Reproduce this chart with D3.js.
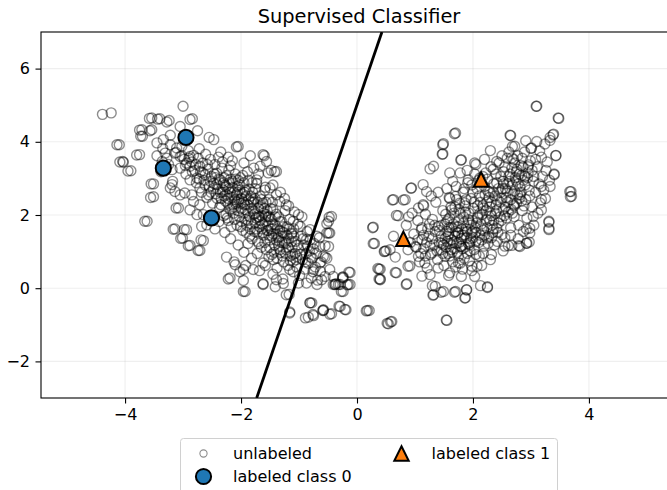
<!DOCTYPE html>
<html>
<head>
<meta charset="utf-8">
<script src="https://cdn.jsdelivr.net/npm/d3@7"></script>
<style>
  html, body { margin: 0; padding: 0; background: #fff; }
  #chart { width: 667px; height: 490px; overflow: hidden; }
  svg { font-family: "DejaVu Sans", sans-serif; display: block; }
</style>
</head>
<body>
<div id="chart"></div>
<script>
// points (x, y)
const unlabeled = [
  // left cluster, outer points
  [-4.39,4.75],[-4.24,4.79],[-3.00,4.97],[-3.58,4.64],[-3.44,4.62],[-3.28,4.54],[-2.88,4.61],
  [-3.75,4.32],[-3.57,4.30],[-3.73,4.15],[-4.14,3.92],[-3.80,3.64],[-4.09,3.45],[-4.03,3.44],
  [-3.95,3.20],[-3.55,2.85],[-3.56,2.48],[-3.66,1.83],[-3.12,2.19],[-3.17,1.61],[-2.98,1.60],
  [-3.04,1.36],[-2.91,1.16],[-2.74,1.03],[-2.69,1.32],[-2.08,3.86],[-1.60,3.62],[-1.42,3.18],
  [-1.58,2.76],[-2.22,0.25],[-1.96,-0.09],[-1.96,0.21],[-1.62,0.12],[-1.41,0.04],[-1.27,0.13],
  [-1.17,-0.17],[-1.16,-0.65],[-0.81,-0.40],[-0.89,-0.81],[-0.76,-0.72],[-0.59,-0.61],
  [-0.47,-0.71],[-0.31,-0.49],[-0.21,-0.58],[0.16,-0.62],[0.52,-0.96],[0.58,-0.92],
  [-0.14,0.44],[-0.17,0.09],[-0.27,-0.09],[-0.36,0.12],[-0.25,0.30],[-0.48,1.94],[-0.49,1.51],
  [-0.52,1.76],[-0.55,1.16],[-0.55,0.85],[-0.63,0.46],[-0.75,1.07],[-0.81,1.32],
  [-3.54,4.65],[-3.40,4.63],[-3.24,4.58],[-2.84,4.63],[-3.05,4.42],[-3.71,4.33],[-3.70,4.15],
  [-3.54,4.33],[-4.10,3.92],[-3.75,3.65],[-4.04,3.46],[-3.90,3.21],[-3.51,2.85],[-3.51,2.50],
  [-3.62,1.83],[-3.08,2.19],[-3.14,1.62],[-2.94,1.60],[-3.01,1.37],[-2.88,1.17],[-2.65,1.30],
  [-2.71,1.03],[-2.75,4.30],[-2.55,4.12],[-2.47,4.06],[-3.34,4.06],[-3.45,3.97],
  [-3.22,3.92],[-3.11,3.83],[-3.14,3.69],[-3.05,3.60],[-2.88,3.60],[-2.94,3.42],[-2.88,3.33],
  [-2.71,3.33],[-2.76,3.01],[-2.62,3.10],[-2.53,2.92],[-2.42,2.83],[-2.71,2.74],[-2.85,2.55],
  [-2.97,2.60],[-3.19,2.83],[-3.22,2.74],[-3.14,2.64],[-2.82,2.37],[-2.71,2.28],[-2.88,2.14],
  [-2.76,2.01],[-2.65,2.01],[-2.59,1.73],[-2.68,1.69],[-3.05,2.55],[-3.19,3.24],[-3.31,3.69],
  [-3.36,3.46],
  [-2.05,3.87],[-1.84,3.62],[-1.62,3.65],[-1.39,3.19],[-1.56,3.46],[-1.67,3.33],[-1.53,3.15],
  [-1.73,2.96],[-1.50,2.74],[-1.39,2.55],[-1.33,2.37],[-1.22,2.28],[-1.01,2.01],[-1.10,1.83],
  [-0.98,1.69],[-0.81,1.60],[-1.13,1.51],[-1.22,1.23],[-1.33,1.05],[-1.44,0.78],[-1.62,0.69],
  [-1.79,0.51],[-1.96,0.51],[-2.10,0.64],[-2.19,0.28],[-1.93,-0.09],[-1.62,0.10],[-1.39,0.23],
  [-1.16,0.51],[-1.04,0.87],[-1.10,0.73],[-0.87,1.33],[-0.69,1.42],[-0.64,1.14],[-0.52,1.51],
  [-0.49,1.83],[-0.58,0.87],[-0.64,0.69],[-0.75,0.51],[-0.87,0.14],[-1.01,0.14],[-0.81,-0.40],
  [-0.58,-0.59],[-0.38,0.10],[-0.41,0.32],[-0.55,0.32],[-0.47,0.51],
  // left cluster, dense band
  [-3.12,3.71],[-3.05,3.28],[-3.02,3.88],[-2.98,3.52],[-2.95,3.12],[-2.91,3.76],[-2.88,2.96],
  [-2.85,3.45],[-2.82,3.63],[-2.80,3.22],[-2.77,2.88],[-2.74,3.55],[-2.72,3.81],[-2.70,3.18],
  [-2.68,2.62],[-2.66,3.42],[-2.64,2.95],[-2.61,3.66],[-2.59,2.48],[-2.57,3.25],[-2.55,2.78],
  [-2.53,3.52],[-2.51,3.05],[-2.49,2.32],[-2.47,2.86],[-2.45,3.38],[-2.43,2.58],[-2.42,3.14],
  [-2.40,2.71],[-2.39,3.58],[-2.37,2.21],[-2.36,2.96],[-2.34,2.45],[-2.33,3.28],[-2.31,2.68],
  [-2.30,1.98],[-2.28,2.82],[-2.27,2.38],[-2.25,3.08],[-2.24,2.55],[-2.22,1.85],[-2.21,2.72],
  [-2.19,2.15],[-2.18,3.35],[-2.16,2.48],[-2.15,2.92],[-2.13,2.05],[-2.12,2.62],[-2.10,3.12],
  [-2.09,2.31],[-2.07,1.72],[-2.06,2.78],[-2.04,2.42],[-2.03,1.95],[-2.01,3.02],[-2.00,2.18],
  [-1.98,2.58],[-1.97,1.58],[-1.95,2.88],[-1.94,2.28],[-1.92,1.88],[-1.91,2.52],[-1.89,3.18],
  [-1.88,2.05],[-1.86,2.71],[-1.85,1.42],[-1.83,2.35],[-1.82,1.76],[-1.80,2.62],[-1.79,2.12],
  [-1.77,1.55],[-1.76,2.45],[-1.74,1.92],[-1.73,2.86],[-1.71,1.28],[-1.70,2.18],[-1.68,1.68],
  [-1.67,2.52],[-1.65,1.12],[-1.64,1.98],[-1.62,2.32],[-1.61,1.45],[-1.59,2.68],[-1.58,1.82],
  [-1.56,1.05],[-1.55,2.12],[-1.53,1.58],[-1.52,2.42],[-1.50,1.32],[-1.48,1.88],[-1.47,0.92],
  [-1.45,2.15],[-1.44,1.48],[-1.42,1.18],[-1.41,1.72],[-1.39,2.02],[-1.38,0.82],[-1.36,1.38],
  [-1.35,1.95],[-1.33,1.58],[-1.32,0.98],[-1.30,1.82],[-1.29,1.25],[-1.27,0.72],[-1.26,1.52],
  [-1.24,2.12],[-1.22,1.05],[-1.21,1.68],[-1.19,0.62],[-1.18,1.35],[-1.16,1.88],[-1.15,0.88],
  [-1.13,1.48],[-1.12,1.12],[-1.10,0.45],[-1.09,1.62],[-1.07,0.95],[-1.06,1.28],[-1.04,0.58],
  [-1.02,1.75],[-1.01,1.08],[-0.99,0.35],[-0.96,1.42],[-0.94,0.78],[-0.92,1.18],[-0.90,0.52],
  [-0.88,0.95],[-0.86,1.55],[-0.84,0.68],[-0.82,1.02],[-0.79,0.28],[-0.77,0.82],[-0.74,1.22],
  [-0.72,0.58],[-0.70,0.95],[-0.68,0.22],[-0.65,1.38],[-0.62,0.72],
  [-3.35,3.82],[-3.28,3.55],[-3.22,4.18],[-3.45,3.62],[-3.38,3.18],[-3.18,2.92],[-3.25,3.38],
  [-2.35,3.72],[-2.22,3.58],[-2.15,3.48],[-1.95,3.42],[-1.78,3.28],[-1.70,3.12],[-1.48,3.22],
  [-1.45,2.82],[-1.32,2.62],[-1.25,2.45],[-1.18,2.25],[-1.08,2.08],[-0.95,1.95],
  [-2.45,1.62],[-2.38,1.82],[-2.28,1.52],[-2.18,1.35],[-2.05,1.18],[-1.95,0.98],[-1.88,1.22],
  [-1.82,0.82],[-1.72,0.95],[-1.68,0.48],[-1.58,0.62],[-1.52,0.85],[-1.45,0.38],[-1.38,0.55],
  [-1.28,0.25],[-2.25,0.85],[-2.12,0.72],[-2.02,0.45],[-1.92,0.62],
  [-2.26,2.02],[-2.20,2.88],[-2.14,2.28],[-2.08,2.55],[-2.02,2.68],[-1.99,1.82],[-1.93,2.15],
  [-1.87,2.42],[-1.84,1.62],[-1.81,2.88],[-1.75,2.05],[-1.72,1.52],[-1.66,2.22],[-1.63,1.75],
  [-1.57,2.02],[-1.54,1.72],[-1.49,1.62],[-1.46,2.35],[-2.32,2.62],[-2.29,3.02],[-2.23,2.32],
  [-2.17,1.68],[-2.11,2.42],[-2.05,2.95],[-1.96,2.35],[-1.90,1.72],[-1.78,2.35],[-1.69,1.95],
  [-1.60,2.18],[-1.51,1.95],
  [-2.58,3.38],[-2.52,2.62],[-2.46,3.12],[-2.41,2.45],[-2.38,2.98],[-2.35,2.28],[-2.32,3.45],
  [-2.29,2.52],[-2.26,2.78],[-2.24,1.92],[-2.21,3.22],[-2.19,2.62],[-2.16,2.18],[-2.14,2.75],
  [-2.11,1.88],[-2.09,2.98],[-2.07,2.35],[-2.05,2.12],[-2.03,2.82],[-2.01,1.68],[-1.99,2.45],
  [-1.97,3.08],[-1.95,2.05],[-1.93,2.68],[-1.91,1.52],[-1.89,2.28],[-1.87,2.95],[-1.85,1.95],
  [-1.83,2.52],[-1.81,1.35],[-1.79,2.42],[-1.77,2.02],[-1.75,2.72],[-1.73,1.62],[-1.71,2.35],
  [-1.69,1.22],[-1.67,1.85],[-1.65,2.42],[-1.63,1.52],[-1.61,2.05],[-1.59,1.25],[-1.57,2.35],
  [-1.55,1.58],[-1.53,1.95],[-1.51,1.12],[-1.49,2.18],[-1.47,1.42],[-1.45,1.75],[-1.43,0.98],
  [-1.41,1.95],[-1.39,1.32],[-1.37,1.62],[-1.35,1.15],[-1.33,1.82],[-1.31,1.42],[-1.29,0.88],
  [-1.27,1.68],[-1.25,1.25],[-1.23,0.95],[-1.21,1.45],[-1.19,1.12],[-1.17,1.62],[-1.15,0.75],
  [-1.13,1.28],[-1.11,0.92],[-1.09,1.42],[-1.05,0.78],[-1.03,1.18],[-0.98,0.92],[-0.93,1.35],
  [-0.89,0.72],[-0.85,1.15],[-0.80,0.85],[-0.76,0.45],
  [-2.62,2.82],[-2.66,3.15],[-2.72,2.98],[-2.78,3.38],[-2.84,3.18],[-2.90,3.55],[-2.96,3.35],
  [-3.02,3.62],[-2.56,2.55],[-2.48,2.72],[-2.44,3.02],[-2.36,2.62],[-2.30,2.88],[-2.22,2.45],
  [-2.18,2.98],[-2.12,2.22],[-2.06,2.62],[-2.00,2.32],[-1.94,2.62],[-1.88,1.85],[-1.82,2.18],
  [-1.76,1.78],[-1.70,1.95],[-1.64,1.62],[-1.58,1.95],[-1.52,1.45],[-1.46,1.62],[-1.40,1.48],
  [-1.34,1.28],[-1.28,1.52],
  // gap between the clusters
  [-0.12,0.43],[-0.24,0.31],[-0.38,0.10],[-0.29,0.10],[-0.12,0.10],[-0.24,-0.09],[-0.78,-0.40],
  [-0.58,-0.61],[-0.84,-0.79],[-0.75,-0.75],[-0.44,-0.70],[-0.29,-0.50],[-0.19,-0.59],
  [0.18,-0.61],[-1.16,-0.68],[-1.22,-0.18],[-0.44,1.96],[-0.47,1.51],[-0.49,1.14],[-0.52,0.82],
  [-0.61,0.23],[-0.69,0.10],[-0.24,0.28],[-0.15,0.10],[-0.41,0.10],[-0.32,0.10],
  // right cluster, outer points
  [0.27,1.65],[0.28,1.22],[0.47,1.00],[0.36,0.54],[0.38,0.25],[0.66,0.43],[0.85,0.10],
  [0.88,0.60],[0.61,2.41],[0.93,2.73],[0.68,1.99],[0.80,2.41],[3.09,4.97],[3.48,4.64],
  [1.68,4.22],[1.48,3.92],[1.47,3.66],[1.26,3.26],[1.32,3.33],[1.79,3.50],[2.64,4.18],
  [3.38,4.19],[3.33,4.04],[3.43,3.62],[3.40,3.10],[3.69,2.64],[3.68,2.50],[3.31,1.80],
  [3.31,1.60],[2.98,1.51],[2.92,1.23],[2.79,1.16],[2.61,1.16],[2.25,0.04],[1.54,-0.87],
  [1.87,-0.26],[1.89,-0.05],[1.68,-0.11],[1.45,-0.11],[1.31,-0.19],[1.30,0.07],[1.12,0.33],
  [2.13,0.07],
  [1.70,4.24],[1.49,3.95],[1.48,3.67],[1.80,3.51],[1.60,3.15],[0.94,2.74],[0.63,2.42],
  [0.83,2.42],[1.14,2.83],[1.20,2.64],[0.71,1.98],[0.89,1.95],[1.06,2.19],[1.14,2.28],
  [0.28,1.67],[0.30,1.22],[0.48,1.01],[0.63,1.42],[0.66,0.85],[0.38,0.52],[0.40,0.23],
  [0.68,0.42],[0.86,0.12],[0.91,0.61],[0.21,-0.61],[0.54,-0.97],[0.60,-0.91],[1.55,-0.88],
  [1.32,-0.18],[1.35,0.05],[1.49,-0.09],[1.70,-0.09],[1.86,-0.27],[1.89,-0.04],[1.26,0.37],
  [1.40,0.55],[1.17,0.69],[1.06,0.87],[1.01,1.14],[1.29,0.96],[1.52,0.87],[1.60,0.42],
  [1.75,0.69],[1.80,0.32],[1.98,0.60],[2.03,0.32],[1.11,1.60],[1.40,1.69],[1.46,1.23],
  [1.57,1.87],[1.63,2.14],[1.70,2.51],[1.86,2.33],[1.92,2.96],[2.03,3.42],[1.92,1.87],
  [1.98,1.51],[1.80,1.14],[1.75,1.51],[1.57,1.42],
  [3.10,4.97],[3.47,4.65],[2.65,4.17],[3.39,4.21],[3.33,4.12],[3.24,3.94],[3.10,4.01],
  [3.01,3.83],[2.91,4.03],[2.68,3.87],[3.43,3.63],[2.30,3.76],[3.40,3.12],[3.67,2.64],
  [3.70,2.51],[3.33,2.78],[3.18,2.42],[3.18,2.14],[3.31,1.83],[3.31,1.63],[2.98,1.64],
  [2.97,1.26],[2.93,1.23],[2.81,1.14],[2.67,1.17],[2.52,1.02],[2.32,0.92],[2.25,0.02],
  [2.07,0.60],[2.87,1.55],[3.04,1.96],[3.16,2.33],[2.81,2.55],[2.52,2.92],[2.41,3.46],
  [2.67,3.56],[2.75,3.19],[2.96,3.37],[3.04,2.92],[2.70,2.28],[2.58,1.92],[2.41,1.64],
  [2.24,1.37],[2.50,1.46],[2.18,2.19],[2.29,2.64],[2.12,3.01],
  [0.40,0.52],[0.40,0.25],[0.50,1.02],[0.57,1.05],
  // right cluster, dense band
  [1.05,1.32],[1.08,0.72],[1.12,1.65],[1.15,1.08],[1.18,2.02],[1.21,0.55],[1.24,1.42],
  [1.27,0.92],[1.30,1.88],[1.33,1.18],[1.36,2.35],[1.39,0.78],[1.42,1.58],[1.45,1.05],
  [1.48,2.12],[1.50,0.62],[1.52,1.35],[1.55,1.82],[1.57,0.95],[1.59,2.48],[1.61,1.22],
  [1.63,1.65],[1.65,0.72],[1.67,2.05],[1.69,1.42],[1.71,2.78],[1.73,0.98],[1.75,1.85],
  [1.77,2.32],[1.79,1.15],[1.81,1.62],[1.83,2.62],[1.85,0.82],[1.87,2.08],[1.89,1.38],
  [1.91,2.88],[1.93,1.78],[1.95,1.02],[1.97,2.45],[1.99,1.55],[2.01,2.18],[2.03,3.12],
  [2.05,1.28],[2.07,2.72],[2.09,1.92],[2.11,0.88],[2.13,2.35],[2.15,1.62],[2.17,3.05],
  [2.19,1.15],[2.21,2.55],[2.23,1.88],[2.25,2.98],[2.27,1.42],[2.29,2.22],[2.31,3.32],
  [2.33,1.72],[2.35,2.62],[2.37,1.18],[2.39,2.05],[2.41,2.88],[2.43,1.52],[2.45,3.42],
  [2.47,2.35],[2.49,1.85],[2.51,2.72],[2.53,3.18],[2.55,1.38],[2.57,2.48],[2.59,3.55],
  [2.61,2.08],[2.63,2.92],[2.65,1.65],[2.67,3.28],[2.69,2.58],[2.71,1.95],[2.73,3.02],
  [2.75,2.32],[2.77,3.62],[2.79,1.72],[2.81,2.78],[2.83,3.35],[2.85,2.12],[2.87,2.95],
  [2.89,3.72],[2.91,2.42],[2.93,1.92],[2.95,3.15],[2.97,2.68],[2.99,3.48],[3.02,2.22],
  [3.05,3.05],[3.08,2.62],[3.11,3.32],[3.14,2.85],[3.18,3.58],[3.22,2.68],[3.26,3.22],
  [1.52,1.75],[1.58,1.48],[1.62,2.22],[1.66,1.25],[1.72,1.68],[1.76,2.15],[1.80,1.35],
  [1.84,1.95],[1.88,2.42],[1.92,1.22],[1.96,1.72],[2.00,2.62],[2.04,1.65],[2.08,2.25],
  [2.12,1.45],[2.16,2.02],[2.20,2.78],[2.24,1.65],[2.28,2.48],[2.32,1.98],[2.36,2.85],
  [2.40,2.28],[2.44,1.78],[2.48,3.05],[2.52,2.15],[2.56,2.72],[2.60,2.35],[2.64,3.12],
  [2.68,2.05],[2.72,2.65],[2.76,3.25],[2.80,2.45],[2.84,3.08],[2.88,2.25],[1.45,1.42],
  [1.48,0.95],[1.54,1.12],[1.60,0.88],[1.68,1.08],[1.74,1.52],[1.78,0.68],[1.86,1.12],
  [1.94,0.75],[2.02,1.05],[2.10,1.25],[2.18,0.95],[2.26,1.22],[2.34,1.52],[1.35,1.55],
  [1.30,1.35],[1.25,1.75],[1.20,1.25],[1.15,1.45],[1.10,0.95],[1.02,1.12],[0.98,1.48],
  [0.92,1.25],[0.88,1.05],[0.85,1.72],[0.95,2.05],[1.05,1.85],[1.15,2.25],[1.28,2.52],
  [1.40,2.62],[1.55,2.72],[1.65,2.92],[1.78,3.15],[1.90,3.22],[2.05,3.38],[2.20,3.52],
  [2.35,3.25],[2.50,3.62],[2.62,3.72],[2.72,3.88],[2.85,3.55],[3.00,3.82],[3.15,3.75],
  [3.28,3.45],[3.32,2.95],[3.25,2.45],[3.12,2.05],[3.05,1.72],[2.92,1.62],[2.78,1.35],
  [2.65,1.45],[2.55,1.15],[2.42,1.28],[2.30,0.78],[2.15,0.62],[1.98,0.48],[1.82,0.52],
  [1.70,0.58],[1.58,0.35],
  [1.55,1.55],[1.60,1.92],[1.63,1.32],[1.66,1.75],[1.69,2.22],[1.72,1.22],[1.75,1.68],
  [1.78,2.05],[1.81,1.45],[1.84,1.78],[1.87,2.25],[1.90,1.55],[1.93,2.05],[1.96,1.35],
  [1.99,1.85],[2.02,2.35],[2.05,1.52],[2.08,1.95],[2.11,2.52],[2.14,1.75],[2.17,2.25],
  [2.20,1.45],[2.23,2.12],[2.26,2.65],[2.29,1.85],[2.32,2.35],[2.35,1.62],[2.38,2.52],
  [2.41,2.12],[2.44,2.72],[2.47,1.95],[2.50,2.45],[2.53,2.85],[2.56,2.22],[2.59,2.65],
  [2.62,3.05],[2.65,2.42],[2.68,2.82],[2.71,2.25],[2.74,2.95],[2.77,2.55],[2.80,3.12],
  [2.83,2.62],[2.86,3.32],[2.90,2.82],[2.94,3.02],[2.98,2.52],[3.02,3.22],[1.42,1.25],
  [1.46,1.72],[1.49,1.18],[1.53,2.02],[1.56,1.28],[1.59,1.65],[1.64,0.98],[1.70,1.55],
  [1.76,1.25],[1.82,1.08],[1.88,1.62],[1.94,1.18],[2.00,1.38],[2.06,1.78],[2.12,2.05],
  [2.18,1.58],[2.24,2.35],[2.30,2.05],[2.36,1.85],[2.42,2.42],[2.48,2.62],[2.54,1.98],
  [2.60,2.85],[2.66,2.15],[2.72,3.42],[2.78,2.85],[2.84,2.38],[2.90,3.05],[1.38,1.02],
  [1.34,1.72],[1.26,1.15],[1.22,1.62],[1.18,0.88],[1.12,1.32],[1.60,2.45],[1.72,2.42],
  [1.85,2.72],[1.98,2.82],[2.10,2.95],[2.22,3.15],[2.40,3.12],[2.55,3.32],[2.70,3.52],
  [2.95,3.32],[3.08,3.52],[3.20,3.05],[3.18,2.78],[1.95,1.25],[1.85,1.45],[2.15,1.32],
  [2.32,1.38],[2.05,0.92],[1.90,0.95],[1.75,0.88],[1.62,1.05]
];
const labeled0 = [[-2.95, 4.12], [-3.34, 3.28], [-2.51, 1.92]];
const labeled1 = [[2.14, 2.97], [0.80, 1.35]];
// decision boundary end points
const boundaryX = [0.43, -1.73];
const boundaryY = [7, -3];
const xTicks = [-4, -2, 0, 2, 4];
const yTicks = [-2, 0, 2, 4, 6];
const legendLabels = ['unlabeled', 'labeled class 0', 'labeled class 1'];

(function initChart() {
  const width = 667, height = 490;
  const margin = { top: 32, left: 41 };
  const innerWidth = 632, innerHeight = 366;
  const blue = '#1f77b4', orange = '#ff7f0e';
  const fontSize = 16;

  const svg = d3.select('#chart').append('svg')
    .attr('width', width)
    .attr('height', height);

  const x = d3.scaleLinear().domain([-5.45, 5.45]).range([0, innerWidth]);
  const y = d3.scaleLinear().domain([-3, 7]).range([innerHeight, 0]);

  const g = svg.append('g')
    .attr('transform', `translate(${margin.left},${margin.top})`);

  // clip for marks
  svg.append('clipPath').attr('id', 'plot-clip')
    .append('rect').attr('width', innerWidth).attr('height', innerHeight);

  // grid
  const grid = g.append('g').attr('class', 'grid');
  grid.selectAll('line.gx').data(xTicks).join('line')
    .attr('class', 'gx')
    .attr('x1', d => x(d)).attr('x2', d => x(d))
    .attr('y1', 0).attr('y2', innerHeight)
    .attr('stroke', '#b0b0b0').attr('stroke-opacity', 0.2).attr('stroke-width', 1.1);
  grid.selectAll('line.gy').data(yTicks).join('line')
    .attr('class', 'gy')
    .attr('x1', 0).attr('x2', innerWidth)
    .attr('y1', d => y(d)).attr('y2', d => y(d))
    .attr('stroke', '#b0b0b0').attr('stroke-opacity', 0.2).attr('stroke-width', 1.1);

  const plot = g.append('g').attr('clip-path', 'url(#plot-clip)');

  // unlabeled points
  plot.append('g').selectAll('circle').data(unlabeled).join('circle')
    .attr('cx', d => x(d[0]))
    .attr('cy', d => y(d[1]))
    .attr('r', 5)
    .attr('fill', 'none')
    .attr('stroke', '#000')
    .attr('stroke-opacity', 0.45)
    .attr('stroke-width', 1.4);

  // labeled class 0
  plot.append('g').selectAll('circle').data(labeled0).join('circle')
    .attr('cx', d => x(d[0]))
    .attr('cy', d => y(d[1]))
    .attr('r', 7.6)
    .attr('fill', blue)
    .attr('stroke', '#000')
    .attr('stroke-width', 2);

  // labeled class 1 (matplotlib '^')
  const tri = s => `M0,${-s}L${s},${s}L${-s},${s}Z`;
  plot.append('g').selectAll('path').data(labeled1).join('path')
    .attr('transform', d => `translate(${x(d[0])},${y(d[1])})`)
    .attr('d', tri(7.2))
    .attr('fill', orange)
    .attr('stroke', '#000')
    .attr('stroke-width', 2)
    .attr('stroke-linejoin', 'miter');

  // decision boundary
  plot.append('line')
    .attr('x1', x(boundaryX[0])).attr('y1', y(boundaryY[0]))
    .attr('x2', x(boundaryX[1])).attr('y2', y(boundaryY[1]))
    .attr('stroke', '#000')
    .attr('stroke-width', 2.8);

  // axes
  const fmt = d => d < 0 ? '\u2212' + Math.abs(d) : String(d);
  const gx = g.append('g')
    .attr('transform', `translate(0,${innerHeight})`)
    .call(d3.axisBottom(x).tickValues(xTicks).tickFormat(fmt).tickSize(5.5).tickPadding(5.5));
  const gy = g.append('g')
    .call(d3.axisLeft(y).tickValues(yTicks).tickFormat(fmt).tickSize(5.5).tickPadding(5.5));
  [gx, gy].forEach(a => {
    a.select('.domain').remove();
    a.selectAll('.tick line').attr('stroke', '#000').attr('stroke-width', 1.1);
    a.selectAll('.tick text')
      .attr('fill', '#000')
      .attr('font-size', fontSize)
      .attr('font-family', '"DejaVu Sans", sans-serif');
  });

  // frame
  g.append('rect')
    .attr('width', innerWidth).attr('height', innerHeight)
    .attr('fill', 'none').attr('stroke', '#000').attr('stroke-width', 1.1);

  // title
  svg.append('text')
    .attr('x', margin.left + innerWidth / 2 + 2)
    .attr('y', 23)
    .attr('text-anchor', 'middle')
    .attr('font-size', 19.4)
    .attr('fill', '#000')
    .text('Supervised Classifier');

  // legend
  const lg = svg.append('g').attr('class', 'legend');
  lg.append('rect')
    .attr('x', 180.5).attr('y', 438.5)
    .attr('width', 377).attr('height', 70)
    .attr('rx', 3)
    .attr('fill', '#fff').attr('fill-opacity', 0.8)
    .attr('stroke', '#d0d0d0').attr('stroke-width', 1);

  const items = [
    { label: legendLabels[0], mx: 203.5, my: 453.5, tx: 233, kind: 'open' },
    { label: legendLabels[1], mx: 203.5, my: 476.5, tx: 233, kind: 'c0' },
    { label: legendLabels[2], mx: 401.5, my: 453.5, tx: 431.5, kind: 'c1' }
  ];
  items.forEach(it => {
    if (it.kind === 'open') {
      lg.append('circle').attr('cx', it.mx).attr('cy', it.my).attr('r', 3.6)
        .attr('fill', 'none').attr('stroke', '#000')
        .attr('stroke-opacity', 0.45).attr('stroke-width', 1.1);
    } else if (it.kind === 'c0') {
      lg.append('circle').attr('cx', it.mx).attr('cy', it.my).attr('r', 7.6)
        .attr('fill', blue).attr('stroke', '#000').attr('stroke-width', 2);
    } else {
      lg.append('path').attr('transform', `translate(${it.mx},${it.my})`)
        .attr('d', tri(7.2))
        .attr('fill', orange).attr('stroke', '#000').attr('stroke-width', 2);
    }
    lg.append('text')
      .attr('x', it.tx).attr('y', it.my)
      .attr('dy', '0.35em')
      .attr('font-size', fontSize)
      .attr('fill', '#000')
      .text(it.label);
  });
})();
</script>
</body>
</html>
